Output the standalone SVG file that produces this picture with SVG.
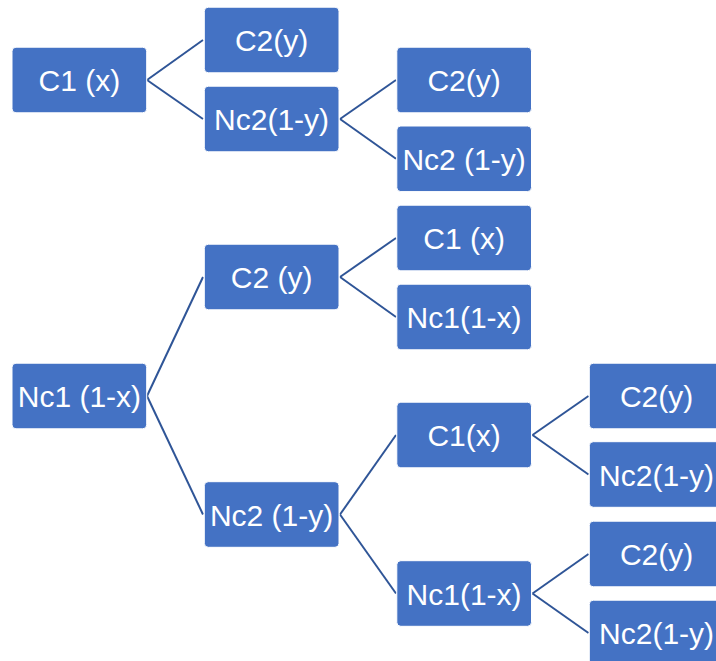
<svg xmlns="http://www.w3.org/2000/svg" width="716" height="661" viewBox="0 0 716 661">
<style>
.box{fill:#4472C4;stroke:#ffffff;stroke-width:1}
.lbl{font-family:"Liberation Sans",Arial,sans-serif;font-size:30px;fill:#ffffff;text-anchor:middle}
.con line{stroke:#2F5597;stroke-width:2}
</style>
<rect width="716" height="661" fill="#ffffff"/>
<g class="con">
<line x1="147" y1="80" x2="203" y2="40"/>
<line x1="147" y1="80" x2="203" y2="119"/>
<line x1="340" y1="119" x2="396" y2="80"/>
<line x1="340" y1="119" x2="396" y2="158.8"/>
<line x1="147" y1="396" x2="203" y2="277"/>
<line x1="147" y1="396" x2="203" y2="514.5"/>
<line x1="340" y1="277" x2="396" y2="238"/>
<line x1="340" y1="277" x2="396" y2="317"/>
<line x1="340" y1="514.5" x2="396" y2="435"/>
<line x1="340" y1="514.5" x2="396" y2="593.5"/>
<line x1="532.5" y1="435" x2="588.5" y2="396"/>
<line x1="532.5" y1="435" x2="588.5" y2="474.5"/>
<line x1="532.5" y1="593.5" x2="588.5" y2="554"/>
<line x1="532.5" y1="593.5" x2="588.5" y2="633"/>
</g>
<g id="n1"><rect class="box" x="12" y="47.2" width="134.7" height="65.6" rx="4"/><text class="lbl" x="79.4" y="91">C1 (x)</text></g>
<g id="n2"><rect class="box" x="204.3" y="7.2" width="134.7" height="65.6" rx="4"/><text class="lbl" x="271.6" y="51">C2(y)</text></g>
<g id="n3"><rect class="box" x="204.3" y="86.2" width="134.7" height="65.6" rx="4"/><text class="lbl" x="271.6" y="130">Nc2(1-y)</text></g>
<g id="n4"><rect class="box" x="396.8" y="47.2" width="134.7" height="65.6" rx="4"/><text class="lbl" x="464.1" y="91">C2(y)</text></g>
<g id="n5"><rect class="box" x="396.8" y="126" width="134.7" height="65.6" rx="4"/><text class="lbl" x="464.1" y="169.8">Nc2 (1-y)</text></g>
<g id="n6"><rect class="box" x="12" y="363.2" width="134.7" height="65.6" rx="4"/><text class="lbl" x="79.4" y="407">Nc1 (1-x)</text></g>
<g id="n7"><rect class="box" x="204.3" y="244.2" width="134.7" height="65.6" rx="4"/><text class="lbl" x="271.6" y="288">C2 (y)</text></g>
<g id="n8"><rect class="box" x="204.3" y="481.7" width="134.7" height="65.6" rx="4"/><text class="lbl" x="271.6" y="525.5">Nc2 (1-y)</text></g>
<g id="n9"><rect class="box" x="396.8" y="205.2" width="134.7" height="65.6" rx="4"/><text class="lbl" x="464.1" y="249">C1 (x)</text></g>
<g id="n10"><rect class="box" x="396.8" y="284.2" width="134.7" height="65.6" rx="4"/><text class="lbl" x="464.1" y="328">Nc1(1-x)</text></g>
<g id="n11"><rect class="box" x="396.8" y="402.2" width="134.7" height="65.6" rx="4"/><text class="lbl" x="464.1" y="446">C1(x)</text></g>
<g id="n12"><rect class="box" x="396.8" y="560.7" width="134.7" height="65.6" rx="4"/><text class="lbl" x="464.1" y="604.5">Nc1(1-x)</text></g>
<g id="n13"><rect class="box" x="589.3" y="363.2" width="134.7" height="65.6" rx="4"/><text class="lbl" x="656.6" y="407">C2(y)</text></g>
<g id="n14"><rect class="box" x="589.3" y="441.7" width="134.7" height="65.6" rx="4"/><text class="lbl" x="656.6" y="485.5">Nc2(1-y)</text></g>
<g id="n15"><rect class="box" x="589.3" y="521.2" width="134.7" height="65.6" rx="4"/><text class="lbl" x="656.6" y="565">C2(y)</text></g>
<g id="n16"><rect class="box" x="589.3" y="600.2" width="134.7" height="65.6" rx="4"/><text class="lbl" x="656.6" y="644">Nc2(1-y)</text></g>
</svg>
